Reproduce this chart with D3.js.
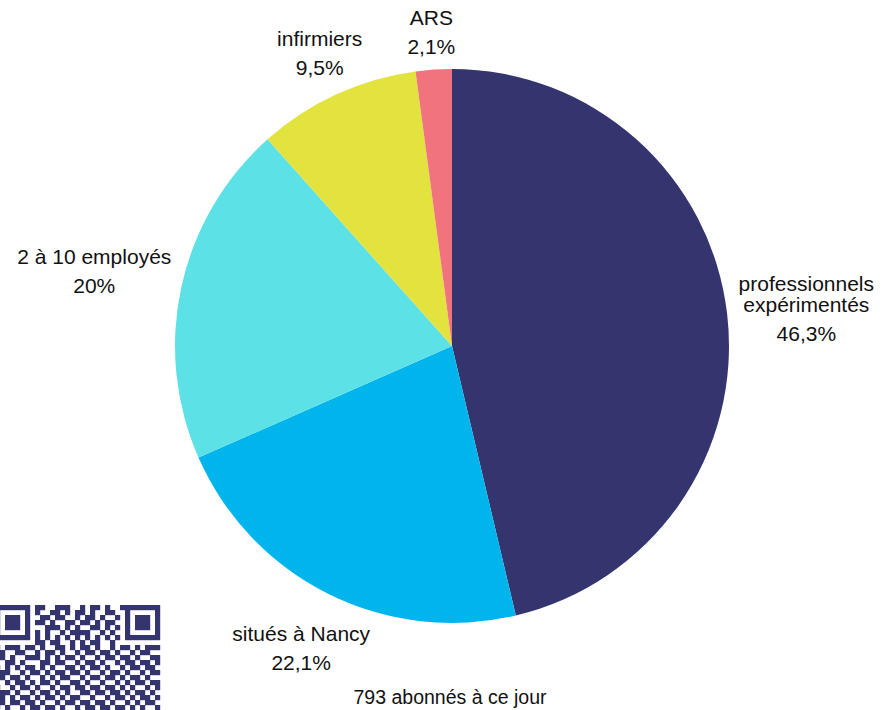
<!DOCTYPE html>
<html>
<head>
<meta charset="utf-8">
<script src="https://cdn.jsdelivr.net/npm/d3@7"></script>
<style>
  html, body { margin: 0; padding: 0; background: #fff; }
  svg { display: block; font-family: "Liberation Sans", Arial, Helvetica, sans-serif; }
</style>
</head>
<body>
<div id="chart"></div>
<script>
// données du graphique
const categories = ['professionnels\nexpérimentés', 'situés à Nancy', '2 à 10 employés', 'infirmiers', 'ARS'];
const values = [46.3, 22.1, 20, 9.5, 2.1];
const valueLabels = ['46,3%', '22,1%', '20%', '9,5%', '2,1%'];
const colors = ['#34356f', '#00b5ec', '#5ce1e6', '#e3e33f', '#f0737e'];
const footerText = '793 abonnés à ce jour';

// QR code (décoratif), une ligne par rangée de modules
const qrRows = [
  '111111101100111001011010011111111',
  '100000101001101011010011001000001',
  '101110100110110010110100101011101',
  '101110101101001101101011001011101',
  '101110100011101010011010101011101',
  '100000101010010111100101001000001',
  '111111101010101010101010101111111',
  '000000001101100101011001000000000',
  '101110110100110101101001011010111',
  '010011001011010010110110100101100',
  '110100111010101101001011011010011',
  '001101000110110010110100101101101',
  '101010110101001101011010010110110',
  '011001011010110110100101101001011',
  '110110100101011001011011010110100',
  '001011010110100110100100101011011',
  '100101101001011011011011010100101',
  '011010010110101001101101101011010',
  '110101101011010110010010110101101',
  '010110110100101101101101001010110',
  '101001011011010010110110110101001',
  '011010100101101101001011011010110'
];

const width = 883, height = 710;
const cx = 452, cy = 346, radius = 277;

const svg = d3.select('#chart').append('svg')
  .attr('width', width).attr('height', height);

// camembert, départ à midi dans le sens horaire
const pie = d3.pie().sort(null).value(d => d);
const pieData = pie(values);
const arc = d3.arc().innerRadius(0).outerRadius(radius);

const g = svg.append('g').attr('transform', 'translate(' + cx + ',' + cy + ')');

g.selectAll('path.slice').data(pieData).enter().append('path')
  .attr('class', 'slice')
  .attr('fill', (d, i) => colors[i])
  .attr('d', arc);

// étiquettes extérieures
const fontSize = 21;
const nudge = { 2: [0, -8], 1: [9, 20], 3: [6, -7] };

const labels = g.selectAll('g.lbl').data(pieData).enter().append('g').attr('class', 'lbl');

labels.each(function (d, i) {
  const lg = d3.select(this);
  const lines = categories[i].split('\n');
  const t = lg.append('text')
    .attr('text-anchor', 'middle')
    .attr('font-size', fontSize)
    .attr('fill', '#111');
  lines.forEach((ln, k) => {
    t.append('tspan').attr('x', 0).attr('y', k * 21).text(ln);
  });
  t.append('tspan').attr('x', 0).attr('y', (lines.length - 1) * 21 + 29).text(valueLabels[i]);

  const bb = t.node().getBBox();
  const mid = (d.startAngle + d.endAngle) / 2;
  const sx = Math.sin(mid), sy = -Math.cos(mid);
  const gap = 12;
  let bx = (radius + gap) * sx + sx * bb.width / 2;
  let by = (radius + gap) * sy + sy * bb.height / 2;
  const n = nudge[i] || [0, 0];
  bx += n[0]; by += n[1];
  const ox = bx - (bb.x + bb.width / 2);
  const oy = by - (bb.y + bb.height / 2);
  lg.attr('transform', 'translate(' + ox + ',' + oy + ')');
});

// texte en bas
svg.append('text')
  .attr('x', 450).attr('y', 704)
  .attr('text-anchor', 'middle')
  .attr('font-size', 19.5)
  .attr('fill', '#111')
  .text(footerText);

// QR code en bas à gauche
const mod = 5;
const qrX = d3.scaleLinear().domain([0, 1]).range([-5, -5 + mod]);
const qrY = d3.scaleLinear().domain([0, 1]).range([605, 605 + mod]);
const cells = [];
qrRows.forEach((row, r) => {
  row.split('').forEach((c, col) => { if (c === '1') cells.push({ r: r, c: col }); });
});
svg.append('g').selectAll('rect').data(cells).enter().append('rect')
  .attr('x', d => qrX(d.c))
  .attr('y', d => qrY(d.r))
  .attr('width', mod + 0.2)
  .attr('height', mod + 0.2)
  .attr('fill', '#34356f');
</script>
</body>
</html>
